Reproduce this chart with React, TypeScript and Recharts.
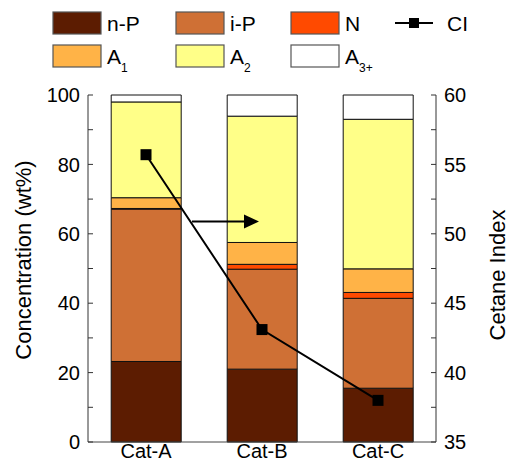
import React from 'react'
import { Bar, ComposedChart, Line, XAxis, YAxis } from 'recharts'

const categories = ['Cat-A', 'Cat-B', 'Cat-C']
const nP = [23.2, 21.0, 15.5]
const iP = [43.9, 28.8, 25.9]
const naph = [0.2, 1.4, 1.7]
const a1 = [3.1, 6.3, 6.8]
const a2 = [27.6, 36.4, 43.1]
const a3 = [2.0, 6.1, 7.0]
const cetane = [55.7, 43.1, 38.0]

const leftTicks = [0, 10, 20, 30, 40, 50, 60, 70, 80, 90, 100]
const rightTicks = [35, 37.5, 40, 42.5, 45, 47.5, 50, 52.5, 55, 57.5, 60]

const FONT = '"Liberation Sans", Arial, Helvetica, sans-serif'

const series = [
    { key: 'nP', name: 'n-P', sub: '', color: '#5C1C01' },
    { key: 'iP', name: 'i-P', sub: '', color: '#CF7035' },
    { key: 'N', name: 'N', sub: '', color: '#FF4A00' },
    { key: 'A1', name: 'A', sub: '1', color: '#FFB347' },
    { key: 'A2', name: 'A', sub: '2', color: '#FFFF88' },
    { key: 'A3', name: 'A', sub: '3+', color: '#FFFFFF' },
]

const data = categories.map((name, i) => ({
    name,
    nP: nP[i],
    iP: iP[i],
    N: naph[i],
    A1: a1[i],
    A2: a2[i],
    A3: a3[i],
    ci: cetane[i],
}))

const LeftTick = (props: any) => {
    const { x, y, payload } = props
    const axisX = x + 8
    const major = payload.value % 20 === 0
    return (
        <g>
            <line x1={axisX} x2={axisX + 5} y1={y} y2={y} stroke="#333" strokeWidth={1} />
            {major && (
                <text x={x} y={y} dy="0.36em" textAnchor="end" fontSize={20} fontFamily={FONT} fill="#000">
                    {payload.value}
                </text>
            )}
        </g>
    )
}

const RightTick = (props: any) => {
    const { x, y, payload } = props
    const axisX = x - 8
    const major = payload.value % 5 === 0
    return (
        <g>
            <line x1={axisX} x2={axisX - 5} y1={y} y2={y} stroke="#333" strokeWidth={1} />
            {major && (
                <text x={x} y={y} dy="0.36em" textAnchor="start" fontSize={20} fontFamily={FONT} fill="#000">
                    {payload.value}
                </text>
            )}
        </g>
    )
}

const CatTick = (props: any) => {
    const { x, y, payload } = props
    return (
        <text x={x} y={y + 16} textAnchor="middle" fontSize={20} fontFamily={FONT} fill="#000">
            {payload.value}
        </text>
    )
}

const SquareDot = (props: any) => {
    const { cx, cy } = props
    return <rect x={cx - 5.5} y={cy - 5.5} width={11} height={11} fill="#000" />
}

const Legend = () => {
    const cols = [53, 176, 291]
    const rows = [12, 45]
    return (
        <svg width={509} height={80} style={{ position: 'absolute', left: 0, top: 0 }}>
            {series.map((s, i) => {
                const x = cols[i % 3]
                const y = rows[Math.floor(i / 3)]
                return (
                    <g key={s.key}>
                        <rect x={x} y={y} width={48} height={22} fill={s.color} stroke="#555" strokeWidth={1.2} />
                        <text x={x + 54} y={y + 19} fontSize={21} fontFamily={FONT} fill="#000">
                            {s.name}
                            {s.sub && (
                                <tspan fontSize={12} dy={8}>
                                    {s.sub}
                                </tspan>
                            )}
                        </text>
                    </g>
                )
            })}
            <line x1={395} x2={433} y1={23} y2={23} stroke="#000" strokeWidth={2} />
            <rect x={409} y={18} width={10} height={10} fill="#000" />
            <text x={447} y={31} fontSize={21} fontFamily={FONT} fill="#000">CI</text>
        </svg>
    )
}

export default function App() {
    return (
        <div style={{ position: 'relative', width: 509, height: 463 }}>
            <style>{'body{margin:0}'}</style>
            <ComposedChart
                width={509}
                height={463}
                data={data}
                margin={{ top: 95, right: 0, bottom: 0, left: 0 }}
                barCategoryGap="20%"
            >
                <XAxis
                    dataKey="name"
                    height={21}
                    tickSize={0}
                    tickMargin={0}
                    tick={<CatTick />}
                    axisLine={{ stroke: '#444', strokeWidth: 1 }}
                    tickLine={false}
                />
                <XAxis
                    xAxisId="top"
                    dataKey="name"
                    orientation="top"
                    height={0}
                    tick={false}
                    tickLine={false}
                    axisLine={{ stroke: '#333', strokeWidth: 1 }}
                />
                <YAxis
                    yAxisId="left"
                    width={88}
                    domain={[0, 100]}
                    ticks={leftTicks}
                    interval={0}
                    tickSize={0}
                    tickMargin={8}
                    tickLine={false}
                    tick={<LeftTick />}
                    axisLine={{ stroke: '#333', strokeWidth: 1 }}
                    label={{
                        content: () => (
                            <text
                                x={23}
                                y={260}
                                transform="rotate(-90 23 260)"
                                textAnchor="middle"
                                dominantBaseline="central"
                                fontSize={22}
                                fontFamily={FONT}
                                fill="#000"
                            >
                                Concentration (wt%)
                            </text>
                        ),
                    }}
                />
                <YAxis
                    yAxisId="right"
                    orientation="right"
                    width={73}
                    domain={[35, 60]}
                    ticks={rightTicks}
                    interval={0}
                    tickSize={0}
                    tickMargin={8}
                    tickLine={false}
                    tick={<RightTick />}
                    axisLine={{ stroke: '#333', strokeWidth: 1 }}
                    label={{
                        content: () => (
                            <text
                                x={497}
                                y={275}
                                transform="rotate(-90 497 275)"
                                textAnchor="middle"
                                dominantBaseline="central"
                                fontSize={22}
                                fontFamily={FONT}
                                fill="#000"
                            >
                                Cetane Index
                            </text>
                        ),
                    }}
                />
                {series.map((s) => (
                    <Bar
                        key={s.key}
                        dataKey={s.key}
                        stackId="a"
                        yAxisId="left"
                        fill={s.color}
                        stroke="#111"
                        strokeWidth={1}
                        isAnimationActive={false}
                    />
                ))}
                <Line
                    dataKey="ci"
                    yAxisId="right"
                    stroke="#000"
                    strokeWidth={2}
                    dot={<SquareDot />}
                    activeDot={false}
                    isAnimationActive={false}
                />
            </ComposedChart>
            <Legend />
            <svg width={509} height={463} style={{ position: 'absolute', left: 0, top: 0, pointerEvents: 'none' }}>
                <line x1={192} x2={246} y1={221.5} y2={221.5} stroke="#000" strokeWidth={2} />
                <polygon points="244,214.5 259,221.5 244,228.5" fill="#000" />
            </svg>
        </div>
    )
}
